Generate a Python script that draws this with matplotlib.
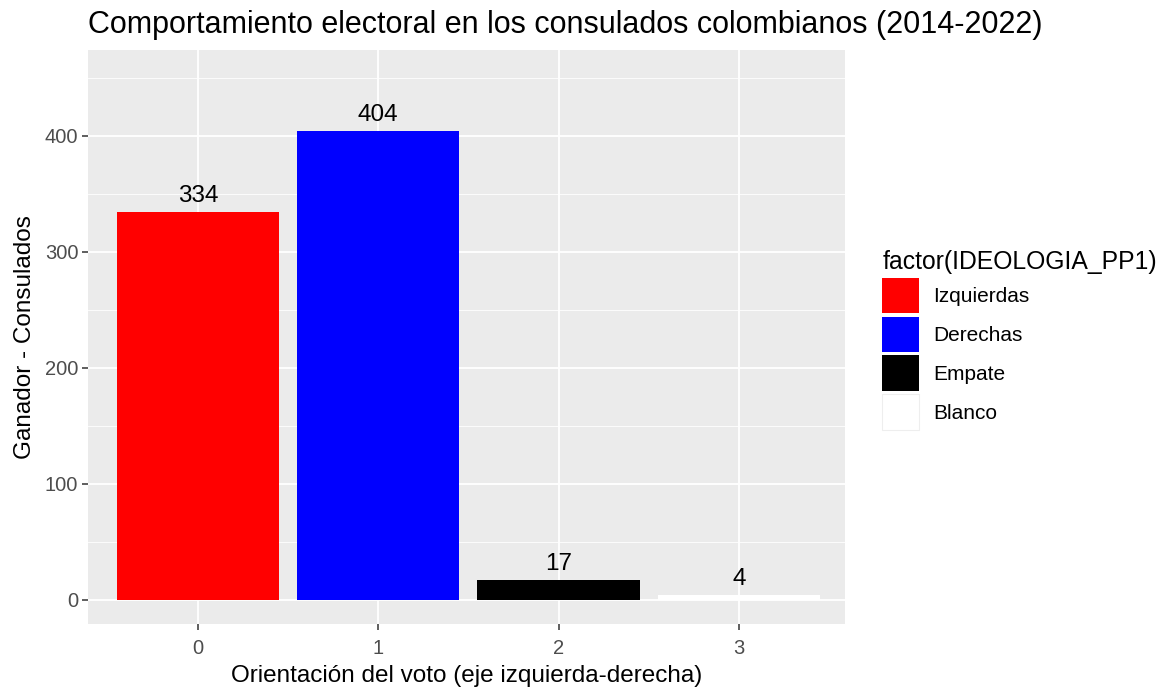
import matplotlib.pyplot as plt
from matplotlib.patches import Patch
from matplotlib.ticker import MultipleLocator

# data
orientacion = [0, 1, 2, 3]
consulados = [334, 404, 17, 4]
categorias = ['Izquierdas', 'Derechas', 'Empate', 'Blanco']
colores = ['#FF0000', '#0000FF', '#000000', '#FFFFFF']

plt.rcParams['font.family'] = ['Liberation Sans', 'DejaVu Sans']

fig = plt.figure(figsize=(11.63, 6.92), dpi=100)
ax = fig.add_axes([0.0757, 0.0983, 0.651, 0.8294])

ax.set_facecolor('#EBEBEB')
bars = ax.bar(orientacion, consulados, width=0.9, color=colores, zorder=3)
ax.bar_label(bars, labels=[str(v) for v in consulados], padding=4,
             fontsize=17.5, color='black', zorder=4)

ax.set_xlim(-0.61, 3.59)
ax.set_ylim(-20.7, 474)
ax.set_xticks(orientacion)
ax.yaxis.set_major_locator(MultipleLocator(100))
ax.yaxis.set_minor_locator(MultipleLocator(50))
ax.grid(which='major', color='white', linewidth=1.3, zorder=0)
ax.grid(which='minor', axis='y', color='white', linewidth=0.6, zorder=0)
ax.set_axisbelow(True)
for s in ax.spines.values():
    s.set_visible(False)
ax.tick_params(which='major', colors='#333333', labelcolor='#4D4D4D',
               labelsize=14.5, length=4, width=1.1)
ax.tick_params(axis='x', which='major', pad=6.5)
ax.tick_params(axis='y', which='major', pad=3)
ax.tick_params(which='minor', length=0)

ax.set_xlabel('Orientación del voto (eje izquierda-derecha)', fontsize=17.5, labelpad=5)
ax.set_ylabel('Ganador - Consulados', fontsize=17.5, labelpad=6)
ax.set_title('Comportamiento electoral en los consulados colombianos (2014-2022)',
             fontsize=22, loc='left', pad=12)

handles = [Patch(facecolor=c, edgecolor='#EEEEEE' if c == '#FFFFFF' else 'none',
                 linewidth=0.8) for c in colores]
leg = ax.legend(handles, categorias, title='factor(IDEOLOGIA_PP1)',
                loc='upper left', bbox_to_anchor=(1.049, 0.651),
                frameon=False, fontsize=15, title_fontsize=17.8,
                handlelength=1.75, handleheight=2.25, labelspacing=0.16,
                handletextpad=0.7, borderaxespad=0, borderpad=0)
leg._legend_box.align = 'left'

fig.savefig('out.png', dpi=100)
